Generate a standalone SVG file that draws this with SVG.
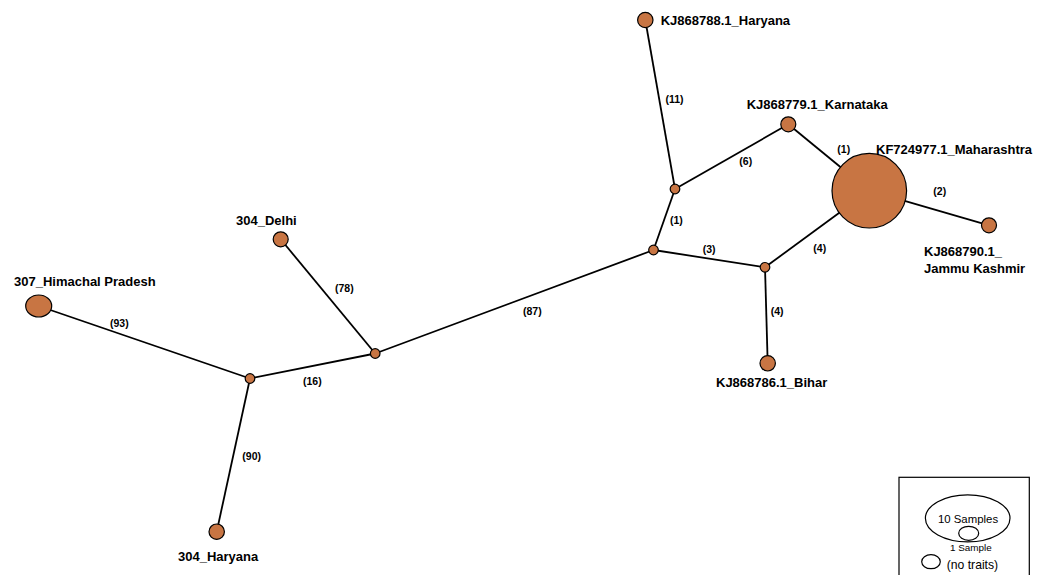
<svg xmlns="http://www.w3.org/2000/svg" width="1050" height="575" viewBox="0 0 1050 575">
<style>
.n{fill:#C87543;stroke:#000;stroke-width:1.2}
.e{stroke:#000;stroke-width:1.8;fill:none}
.lb{font-family:"Liberation Sans",Arial,sans-serif;font-weight:bold;font-size:13px;fill:#000}
.el{font-family:"Liberation Sans",Arial,sans-serif;font-weight:bold;font-size:10.5px;fill:#000}
.lg{font-family:"Liberation Sans",Arial,sans-serif;fill:#000}
</style>
<rect width="1050" height="575" fill="#fff"/>
<g id="connectors">
<line class="e" x1="645.3" y1="20" x2="675" y2="189"/>
<line class="e" x1="788.3" y1="124.3" x2="675" y2="189"/>
<line class="e" x1="788.3" y1="124.3" x2="869.3" y2="190.7"/>
<line class="e" x1="869.3" y1="190.7" x2="989" y2="225.3"/>
<line class="e" x1="869.3" y1="190.7" x2="765" y2="267.3"/>
<line class="e" x1="675" y1="189" x2="653.5" y2="250"/>
<line class="e" x1="653.5" y1="250" x2="765" y2="267.3"/>
<line class="e" x1="765" y1="267.3" x2="767.7" y2="363.3"/>
<line class="e" x1="653.5" y1="250" x2="375.2" y2="353.5"/>
<line class="e" x1="375.2" y1="353.5" x2="280.7" y2="239.3"/>
<line class="e" x1="375.2" y1="353.5" x2="250" y2="378.5"/>
<line class="e" x1="250" y1="378.5" x2="38.7" y2="306"/>
<line class="e" x1="250" y1="378.5" x2="216.7" y2="531.7"/>
<text class="el" x="665.5" y="103">(11)</text>
<text class="el" x="739.3" y="165">(6)</text>
<text class="el" x="837.3" y="153.3">(1)</text>
<text class="el" x="933.3" y="195">(2)</text>
<text class="el" x="670" y="224">(1)</text>
<text class="el" x="702.7" y="252.7">(3)</text>
<text class="el" x="813.3" y="252.3">(4)</text>
<text class="el" x="770.7" y="315">(4)</text>
<text class="el" x="523" y="315">(87)</text>
<text class="el" x="335" y="292.3">(78)</text>
<text class="el" x="110" y="326.7">(93)</text>
<text class="el" x="303" y="385">(16)</text>
<text class="el" x="242.3" y="460">(90)</text>
</g>
<g id="n_haryana_kj"><circle class="n" cx="645.3" cy="20" r="7.7"/><text class="lb" x="660.7" y="25">KJ868788.1_Haryana</text></g>
<g id="n_karnataka"><circle class="n" cx="788.3" cy="124.3" r="7.5"/><text class="lb" x="746.7" y="109.3">KJ868779.1_Karnataka</text></g>
<g id="n_maharashtra"><circle class="n" cx="869.3" cy="190.7" r="37.3"/><text class="lb" x="876" y="154.3">KF724977.1_Maharashtra</text></g>
<g id="n_jammu"><circle class="n" cx="989" cy="225.3" r="7.5"/><text class="lb" x="924" y="255.7">KJ868790.1_</text><text class="lb" x="924" y="272.7">Jammu Kashmir</text></g>
<g id="n_bihar"><circle class="n" cx="767.7" cy="363.3" r="7.7"/><text class="lb" x="716" y="387.3">KJ868786.1_Bihar</text></g>
<g id="n_delhi"><circle class="n" cx="280.7" cy="239.3" r="7.5"/><text class="lb" x="236" y="225">304_Delhi</text></g>
<g id="n_himachal"><ellipse class="n" cx="38.7" cy="306" rx="13" ry="11"/><text class="lb" x="14" y="286">307_Himachal Pradesh</text></g>
<g id="n_haryana304"><circle class="n" cx="216.7" cy="531.7" r="7.7"/><text class="lb" x="178" y="561">304_Haryana</text></g>
<g id="j_a"><circle class="n" cx="675" cy="189" r="4.8"/></g>
<g id="j_b"><circle class="n" cx="653.5" cy="250" r="4.8"/></g>
<g id="j_c"><circle class="n" cx="765" cy="267.3" r="4.8"/></g>
<g id="j_d"><circle class="n" cx="375.2" cy="353.5" r="4.8"/></g>
<g id="j_e"><circle class="n" cx="250" cy="378.5" r="4.8"/></g>
<g id="legend">
<rect x="899" y="477.3" width="130.3" height="110" fill="#fff" stroke="#000" stroke-width="1.2"/>
<ellipse cx="967.7" cy="518.3" rx="42.3" ry="23.5" fill="#fff" stroke="#000" stroke-width="1.2"/>
<text class="lg" x="968" y="523.3" font-size="11.4" text-anchor="middle">10 Samples</text>
<ellipse cx="968.7" cy="533.3" rx="10" ry="7" fill="#fff" stroke="#000" stroke-width="1.2"/>
<text class="lg" x="970.8" y="550.7" font-size="9.9" text-anchor="middle">1 Sample</text>
<ellipse cx="931" cy="561.7" rx="9.3" ry="7" fill="#fff" stroke="#000" stroke-width="1.2"/>
<text class="lg" x="946.7" y="569" font-size="12.2">(no traits)</text>
</g>
</svg>
